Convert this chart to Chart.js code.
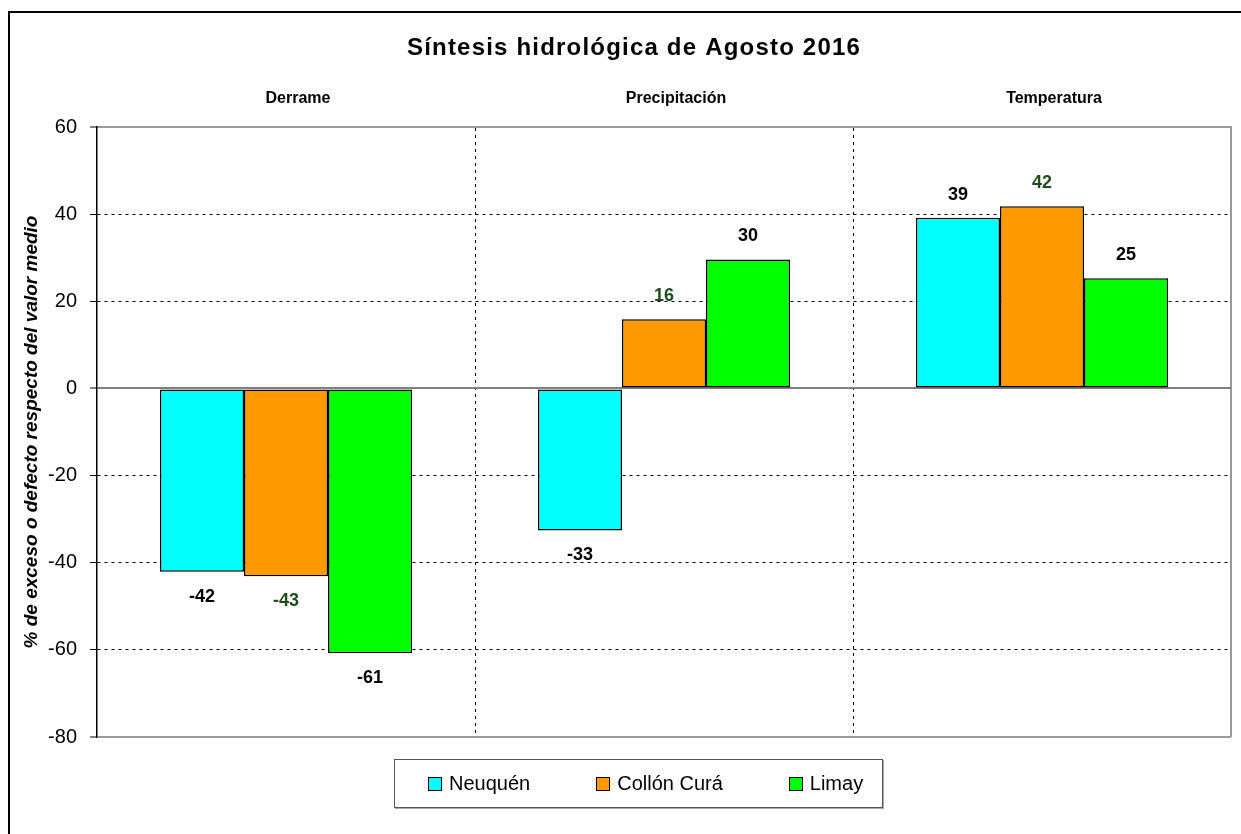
<!DOCTYPE html>
<html lang="es">
<head>
<meta charset="utf-8">
<title>Síntesis hidrológica de Agosto 2016</title>
<script src="https://cdn.jsdelivr.net/npm/chart.js@4.4.1/dist/chart.umd.min.js"></script>
<style>
  body { margin: 0; background: #fff; overflow: hidden; font-family: "Liberation Sans", Arial, sans-serif; }
  #marco { position: absolute; left: 8px; top: 11px; width: 1400px; height: 1000px;
           border-left: 2px solid #000; border-top: 2px solid #000; }
  #grafico { position: absolute; left: 0; top: 0; }
  #leyenda { position: absolute; left: 394px; top: 759px; width: 489px; height: 49px; box-sizing: border-box;
             border: 1px solid #555; box-shadow: 1px 1px 0 #aaa; display: flex; align-items: center;
             padding-left: 33px; gap: 66px; }
  .item { display: flex; align-items: center; font-size: 20px; color: #000; }
  .caja { width: 12px; height: 12px; border: 1px solid #000; margin-right: 7px; }
</style>
</head>
<body>
<div id="marco"></div>
<canvas id="grafico" width="1241" height="834"></canvas>
<div id="leyenda"></div>
<script>
// datos (% respecto del valor medio)
const categorias = ["Derrame", "Precipitación", "Temperatura"];
const neuquen = [-42.1, -32.6, 39.2];
const collonCura = [-43.1, 15.9, 41.8];
const limay = [-60.8, 29.6, 25.3];

const series = ["Neuquén", "Collón Curá", "Limay"];
const colores = ["#00FFFF", "#FF9900", "#00FF00"];
const coloresEtiqueta = ["#000000", "#1E4D1E", "#000000"];

const yMin = -80, yMax = 60, yPaso = 20;

Chart.defaults.font.family = "'Liberation Sans', Arial, sans-serif";
Chart.defaults.color = "#000";

const esBorde = v => v === yMin || v === yMax;

// valores arriba / abajo de cada barra
const etiquetas = {
  id: "etiquetas",
  afterDatasetsDraw(chart) {
    const ctx = chart.ctx;
    ctx.save();
    ctx.font = "bold 18px 'Liberation Sans', Arial";
    ctx.textAlign = "center";
    ctx.textBaseline = "middle";
    chart.data.datasets.forEach((ds, i) => {
      chart.getDatasetMeta(i).data.forEach((bar, j) => {
        const v = ds.data[j];
        ctx.fillStyle = coloresEtiqueta[i];
        ctx.fillText(Math.round(v), bar.x, v >= 0 ? bar.y - 23 : bar.y + 25);
      });
    });
    ctx.restore();
  }
};

// titulo general (corrido a la izquierda como en el original)
const titulo = {
  id: "titulo",
  afterDraw(chart) {
    const ctx = chart.ctx;
    ctx.save();
    ctx.fillStyle = "#000";
    ctx.textAlign = "center";
    ctx.textBaseline = "middle";
    ctx.font = "bold 24px 'Liberation Sans', Arial";
    ctx.letterSpacing = "1.2px";
    ctx.fillText("Síntesis hidrológica de Agosto 2016", 634, 48);
    ctx.restore();
  }
};

const datos = [neuquen, collonCura, limay];

const chart = new Chart(document.getElementById("grafico"), {
  type: "bar",
  data: {
    labels: categorias,
    datasets: series.map((nombre, i) => ({
      label: nombre,
      data: datos[i],
      backgroundColor: colores[i],
      borderColor: "#000",
      borderWidth: 1.5,
      borderSkipped: false,
      categoryPercentage: 0.667,
      barPercentage: 1.0
    }))
  },
  options: {
    responsive: false,
    animation: false,
    layout: { padding: { left: 10, right: 10, top: 0, bottom: 97 } },
    plugins: {
      legend: { display: false },
      title: { display: false },
      tooltip: { enabled: false }
    },
    scales: {
      x: {
        position: "top",
        ticks: { font: { size: 16, weight: "bold" }, color: "#000", padding: 19, labelOffset: 12 },
        grid: {
          offset: true,
          drawTicks: false,
          color: c => c.type !== "tick" ? "#999" : (c.index === 0 ? "rgba(0,0,0,0)" : "#000"),
          lineWidth: c => c.type !== "tick" ? 2 : 1
        },
        border: { color: "#999", width: 2, dash: c => c.type === "tick" ? [3, 4] : [] },
        afterFit: s => { s.height = 127; }
      },
      y: {
        min: yMin,
        max: yMax,
        title: {
          display: true,
          text: "% de exceso o defecto respecto del valor medio",
          font: { size: 19, style: "italic", weight: "bold" },
          color: "#000",
          padding: { top: 10, bottom: 0 }
        },
        ticks: { stepSize: yPaso, font: { size: 20 }, color: "#000", padding: 13 },
        grid: {
          color: c => c.tick.value === 0 ? "#808080" : (esBorde(c.tick.value) ? "#999" : "#000"),
          lineWidth: c => (c.tick.value === 0 || esBorde(c.tick.value)) ? 2 : 1,
          tickColor: "#000",
          tickLength: 7,
          tickWidth: 1,
          tickBorderDash: []
        },
        border: {
          color: "#000",
          width: 1.5,
          dash: c => (c.tick && c.tick.value !== 0 && !esBorde(c.tick.value)) ? [3, 4] : []
        },
        afterFit: s => { s.width = 87; }
      }
    }
  },
  plugins: [etiquetas, titulo]
});

// leyenda en html
const leyenda = document.getElementById("leyenda");
chart.data.datasets.forEach(ds => {
  const item = document.createElement("div");
  item.className = "item";
  const caja = document.createElement("span");
  caja.className = "caja";
  caja.style.background = ds.backgroundColor;
  item.appendChild(caja);
  item.appendChild(document.createTextNode(ds.label));
  leyenda.appendChild(item);
});
</script>
</body>
</html>
